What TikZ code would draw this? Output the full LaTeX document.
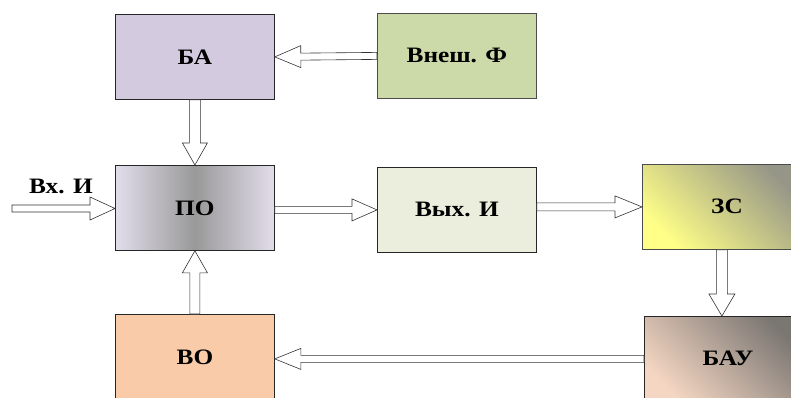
\documentclass[tikz,border=0pt]{standalone}
\usepackage{fontspec}
\newfontfamily\blkfont{Liberation Serif Bold}[FakeStretch=1.15]
\usetikzlibrary{calc}
\definecolor{baC}{HTML}{D3CAE0}
\definecolor{vfC}{HTML}{CCDAAA}
\definecolor{vyC}{HTML}{EBEEDD}
\definecolor{voC}{HTML}{F9CBA8}
\definecolor{poEdge}{HTML}{E2DDEB}
\definecolor{poMid}{HTML}{999999}
\definecolor{zsA}{HTML}{FFFF88}
\definecolor{zsB}{HTML}{969688}
\definecolor{bauA}{HTML}{F4D6C2}
\definecolor{bauB}{HTML}{7A7672}
\tikzset{
  txt/.style={font=\blkfont\fontsize{22}{26}\selectfont, text=black},
  blk/.style={draw=black!85, line width=0.8pt, minimum width=159pt, minimum height=85pt,
    inner sep=0pt, txt, anchor=north west},
  barr/.style={draw=black!80, line width=0.6pt, fill=white},
}
% block arrow: #1 start, #2 end, #3 half shaft, #4 half head, #5 head length
\newcommand\barrow[5]{%
  \draw[barr] let \p1=(#1), \p2=(#2), \n1={veclen(\x2-\x1,\y2-\y1)}, \n2={atan2(\y2-\y1,\x2-\x1)} in
    [shift={(\p1)}, rotate=\n2]
    (0pt,-#3) -- (\n1-#5,-#3) -- (\n1-#5,-#4) -- (\n1,0pt) -- (\n1-#5,#4) -- (\n1-#5,#3) -- (0pt,#3) -- cycle;}
\begin{document}
\begin{tikzpicture}[x=1pt,y=-1pt]
\useasboundingbox (0,0) rectangle (791,398);
\clip (0,0) rectangle (791,398);
\node[blk, fill=baC] (ba) at (115,14) {БА};
\node[blk, fill=vfC, draw=black!70] (vf) at (377,13) {Внеш. Ф};
\node[blk, left color=poEdge, right color=poEdge, middle color=poMid] (po) at (115,165) {ПО};
\node[blk, fill=vyC] (vy) at (377,167) {Вых. И};
\node[blk, draw=black!70, bottom color=zsA, top color=zsB, shading angle=-45] (zs) at (642,164) {};
\node[txt] (zst) at (727,206) {ЗС};
\node[blk, bottom color=bauA, top color=bauB, shading angle=-45] (bau) at (644,316) {};
\node[txt] (baut) at (728,358) {БАУ};
\node[blk, fill=voC] (vo) at (115,314) {ВО};
\node[txt, anchor=south west, inner sep=0pt] (vxi) at (29,194) {Вх. И};
\coordinate (inS) at (12,208.5);
\barrow{vf.west}{ba.east}{3.5pt}{11pt}{26pt}
\barrow{ba.south}{po.north}{5.5pt}{12.5pt}{22pt}
\barrow{inS}{po.west |- inS}{3.5pt}{11.5pt}{25pt}
\barrow{vy.west -| po.east}{vy.west}{3.5pt}{11pt}{25pt}
\barrow{zs.west -| vy.east}{zs.west}{4pt}{11pt}{27pt}
\barrow{zs.south}{zs.south |- bau.north}{5.5pt}{13pt}{22pt}
\barrow{bau.west}{vo.east |- bau.west}{3.5pt}{10.5pt}{26pt}
\barrow{vo.north}{po.south}{5pt}{12.5pt}{22pt}
\end{tikzpicture}
\end{document}
